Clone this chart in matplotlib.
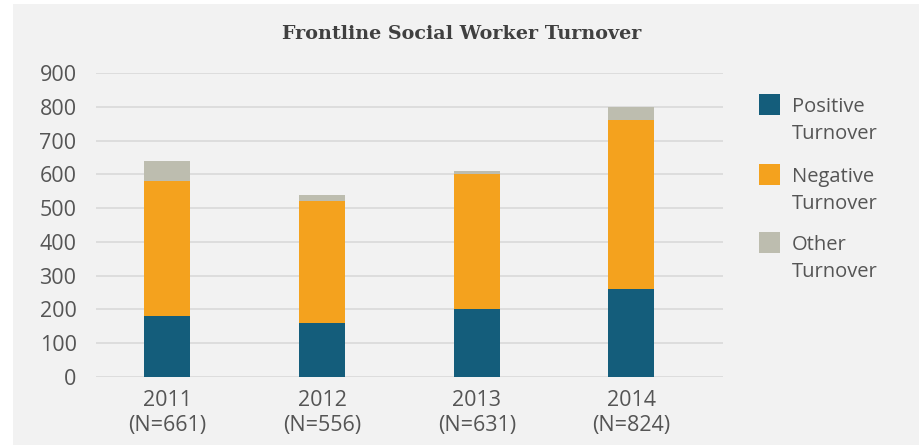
import matplotlib
matplotlib.use("Agg")
import matplotlib.pyplot as plt
from matplotlib.patches import Rectangle
import numpy as np

years = ["2011", "2012", "2013", "2014"]
n_values = [661, 556, 631, 824]
positive = [180, 160, 200, 260]
negative = [400, 360, 400, 500]
other = [60, 20, 10, 40]
series_labels = ["Positive\nTurnover", "Negative\nTurnover", "Other\nTurnover"]
colors = ["#145d7b", "#f4a21e", "#bdbdaf"]
title = "Frontline Social Worker Turnover"

W, H = 920, 445
fig = plt.figure(figsize=(W / 100, H / 100), dpi=100, facecolor="white")
bg = "#f2f2f2"
fig.add_artist(Rectangle((13 / W, 0), 1 - 13 / W, 1 - 4 / H, transform=fig.transFigure,
                         facecolor=bg, edgecolor="none", zorder=0))

font = "Open Sans"
tcol = "#555555"

ax = fig.add_axes([96 / W, (H - 377) / H, (723 - 96) / W, (377 - 73) / H])
ax.set_facecolor(bg)
ax.patch.set_alpha(0)
x = np.arange(len(years))
bw = 0.297
bottom = np.zeros(len(years))
for vals, c in zip([positive, negative, other], colors):
    ax.bar(x, vals, bw, bottom=bottom, color=c, edgecolor="none", zorder=3)
    bottom = bottom + np.array(vals)

ax.set_ylim(0, 900)
ax.set_yticks(range(0, 901, 100))
ax.set_xlim(-0.461, 3.592)
ax.set_xticks(x)
ax.set_xticklabels([f"{y}\n(N={n})" for y, n in zip(years, n_values)],
                   fontfamily=font, fontsize=15.5, color=tcol, linespacing=1.3)
for lab in ax.get_yticklabels():
    lab.set_fontfamily(font)
    lab.set_fontsize(15.5)
    lab.set_color(tcol)
ax.tick_params(axis="both", length=0)
ax.tick_params(axis="y", pad=14)
ax.tick_params(axis="x", pad=9)
ax.grid(axis="y", color="#d9d9d9", linewidth=1.2, zorder=0)
ax.set_axisbelow(True)
for s in ax.spines.values():
    s.set_visible(False)

fig.text(462 / W, 1 - 34 / H, title, ha="center", va="center",
         fontfamily="DejaVu Serif", fontweight="bold", fontsize=13.8, color="#404040")

# legend
tops = [94, 164, 232]
for lab, c, t in zip(series_labels, colors, tops):
    fig.add_artist(Rectangle((759 / W, 1 - (t + 21) / H), 21 / W, 21 / H,
                             transform=fig.transFigure, facecolor=c, edgecolor="none"))
    fig.text(792 / W, 1 - (t + 3) / H, lab, ha="left", va="top", fontfamily=font,
             fontsize=14.5, color=tcol, linespacing=1.45)

fig.savefig("out.png", dpi=100, facecolor="white")
